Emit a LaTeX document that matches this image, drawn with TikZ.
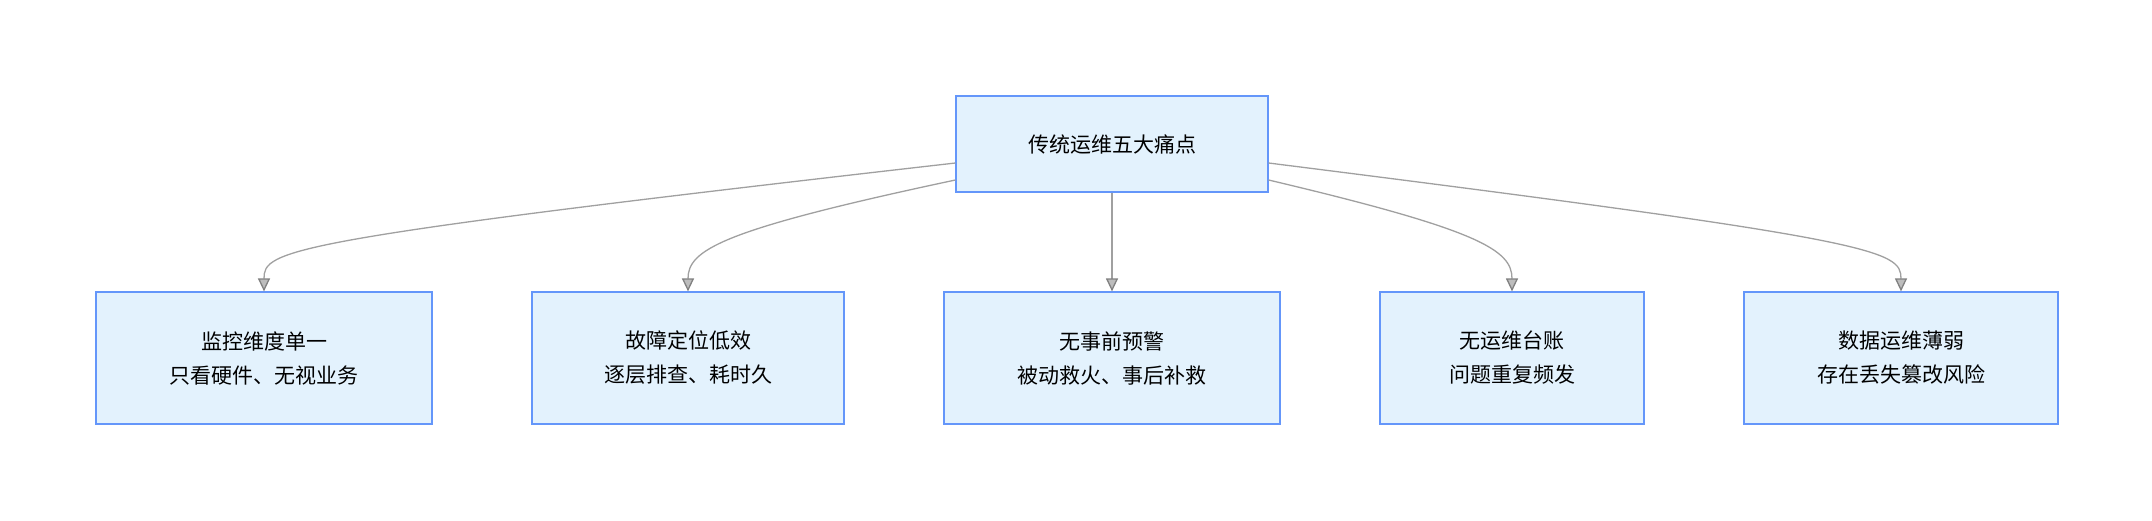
\documentclass[tikz,border=0pt]{standalone}
\usepackage{fontspec}
\setmainfont{Noto Sans CJK SC}
\usetikzlibrary{arrows.meta}
\definecolor{boxfill}{RGB}{227,242,253}
\definecolor{boxline}{RGB}{100,150,250}
\definecolor{linkgray}{RGB}{160,160,160}
\begin{document}
\begin{tikzpicture}[x=1pt,y=-1pt,
  box/.style={draw=boxline,fill=boxfill,line width=1.2pt,align=center,font=\fontsize{21}{34}\selectfont,inner sep=0pt},
  link/.style={draw=linkgray,line width=1.3pt,-{Triangle[length=13pt,width=12pt,fill=linkgray!70,color=gray]}}]
\useasboundingbox (0,0) rectangle (2152,520);

% root
\node[box,minimum width=312pt,minimum height=96pt] (root) at (1112,144) {传统运维五大痛点};

% pain points
\node[box,minimum width=336pt,minimum height=132pt] (dim) at (264,358) {监控维度单一\\只看硬件、无视业务};
\node[box,minimum width=312pt,minimum height=132pt] (fault) at (688,358) {故障定位低效\\逐层排查、耗时久};
\node[box,minimum width=336pt,minimum height=132pt] (warn) at (1112,358) {无事前预警\\被动救火、事后补救};
\node[box,minimum width=264pt,minimum height=132pt] (ledger) at (1512,358) {无运维台账\\问题重复频发};
\node[box,minimum width=314pt,minimum height=132pt] (data) at (1901,358) {数据运维薄弱\\存在丢失篡改风险};

% links
\draw[link] ([yshift=-19pt]root.west) .. controls (280,240) and (264,250) .. (dim.north);
\draw[link] ([yshift=-36pt]root.west) .. controls (720,230) and (688,250) .. (fault.north);
\draw[link] (root.south) -- (warn.north);
\draw[link] ([yshift=-36pt]root.east) .. controls (1480,230) and (1512,250) .. (ledger.north);
\draw[link] ([yshift=-19pt]root.east) .. controls (1880,240) and (1901,250) .. (data.north);
\end{tikzpicture}
\end{document}
